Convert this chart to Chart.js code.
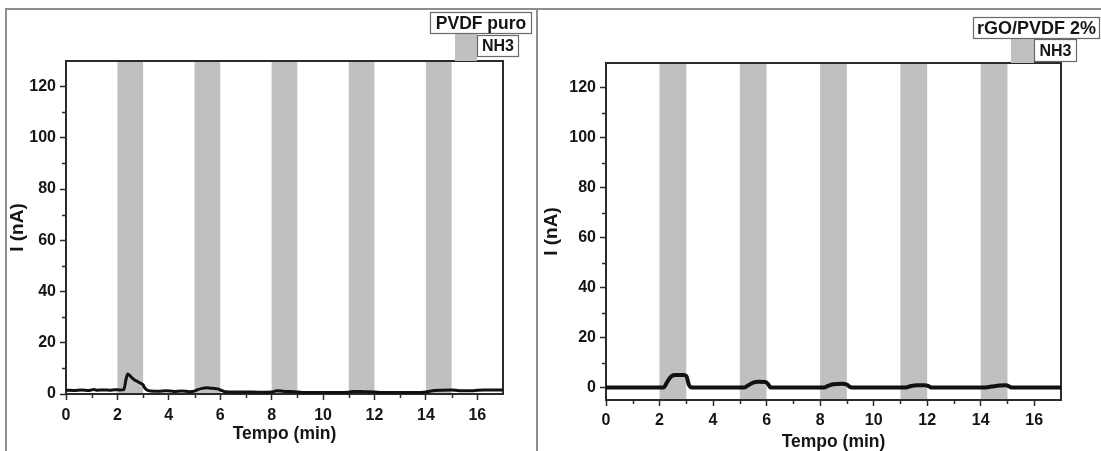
<!DOCTYPE html>
<html lang="pt">
<head>
<meta charset="UTF-8">
<title>Resposta a NH3 – PVDF puro e rGO/PVDF 2%</title>
<script src="https://cdn.jsdelivr.net/npm/chart.js"></script>
<style>
  html, body { margin: 0; padding: 0; background: #fff; }
  #page { position: relative; width: 1101px; height: 451px; overflow: hidden; }
  .panel { position: absolute; top: 0; height: 451px; }
  .frame { position: absolute; background: #8e8e8e; }
</style>
</head>
<body>
<div id="page">
  <div class="panel" style="left:0;width:537px"><canvas id="chartPuro"></canvas></div>
  <div class="panel" style="left:537px;width:564px"><canvas id="chartRgo"></canvas></div>
  <div class="frame" style="left:5px;top:8px;width:1096px;height:2px"></div>
  <div class="frame" style="left:5px;top:8px;width:2px;height:443px"></div>
  <div class="frame" style="left:536px;top:8px;width:2px;height:443px"></div>
</div>
<script>
// NH3 exposure windows (min)
const nh3Windows = [[2, 3], [5, 6], [8, 9], [11, 12], [14, 15]];

// PVDF puro: time (min) and current (nA)
const tempoPuro = [0, 0.3, 0.6, 0.9, 1.1, 1.2, 1.5, 1.7, 1.9, 2.1, 2.25, 2.33, 2.4, 2.5, 2.6, 2.7, 2.8, 2.9, 3.0, 3.05, 3.15, 3.3, 3.6, 3.9, 4.2, 4.5, 4.8, 5.0, 5.1, 5.3, 5.5, 5.7, 5.9, 6.05, 6.2, 6.6, 7.0, 7.5, 8.0, 8.2, 8.5, 8.9, 9.2, 9.8, 10.5, 11.0, 11.2, 11.6, 12.0, 12.3, 13.0, 13.6, 14.0, 14.2, 14.6, 15.0, 15.3, 15.8, 16.0, 16.3, 16.7, 17.0];
const correntePuro = [1.5, 1.4, 1.6, 1.4, 1.8, 1.5, 1.6, 1.5, 1.7, 1.6, 1.7, 5.5, 7.8, 7.0, 6.0, 5.3, 4.8, 4.2, 3.6, 2.6, 1.6, 1.2, 1.1, 1.3, 1.0, 1.2, 0.9, 1.1, 1.6, 2.2, 2.4, 2.2, 2.0, 1.4, 0.9, 0.8, 0.8, 0.7, 0.8, 1.3, 1.0, 0.9, 0.6, 0.6, 0.6, 0.7, 1.0, 0.9, 0.8, 0.6, 0.6, 0.6, 0.8, 1.2, 1.5, 1.6, 1.3, 1.3, 1.5, 1.6, 1.6, 1.6];

// rGO/PVDF 2%: time (min) and current (nA)
const tempoRgo = [0, 2.15, 2.3, 2.45, 2.6, 2.9, 3.0, 3.1, 3.2, 5.15, 5.3, 5.5, 5.7, 5.95, 6.05, 6.15, 8.15, 8.3, 8.5, 8.8, 9.0, 9.1, 9.2, 11.2, 11.4, 11.6, 11.9, 12.05, 12.15, 14.1, 14.4, 14.7, 14.95, 15.05, 15.15, 17];
const correnteRgo = [0, 0, 2.5, 4.6, 5.0, 5.0, 4.6, 1.0, 0, 0, 0.8, 2.0, 2.3, 2.2, 1.5, 0, 0, 0.7, 1.3, 1.5, 1.2, 0.3, 0, 0, 0.6, 0.9, 0.9, 0.6, 0, 0, 0.4, 0.8, 0.9, 0.5, 0, 0];

// axis ticks
const xTicks = [0, 2, 4, 6, 8, 10, 12, 14, 16];
const xMinor = [1, 3, 5, 7, 9, 11, 13, 15];
const yTicks = [0, 20, 40, 60, 80, 100, 120];
const yMinor = [10, 30, 50, 70, 90, 110];

const legendPuro = ['PVDF puro', 'NH3'];
const legendRgo = ['rGO/PVDF 2%', 'NH3'];

const FONT = '"Liberation Sans", Arial, sans-serif';
const INK = '#151515';

function labelBox(ctx, text, box, size) {
  const [x, y, w, h] = box;
  ctx.fillStyle = '#fff';
  ctx.fillRect(x, y, w, h);
  ctx.strokeStyle = '#6a6a6a';
  ctx.lineWidth = 1.2;
  ctx.strokeRect(x + 0.5, y + 0.5, w - 1, h - 1);
  ctx.fillStyle = INK;
  ctx.font = 'bold ' + size + 'px ' + FONT;
  ctx.textAlign = 'center';
  ctx.textBaseline = 'middle';
  ctx.fillText(text, x + w / 2, y + h / 2 + 1);
}

const nh3Plugin = {
  id: 'nh3',
  beforeDraw(chart) {
    const { ctx, chartArea: a, scales: { x } } = chart;
    ctx.save();
    ctx.fillStyle = '#c0c0c0';
    nh3Windows.forEach(([s, e]) => {
      const x0 = x.getPixelForValue(s), x1 = x.getPixelForValue(e);
      ctx.fillRect(x0, a.top, x1 - x0, a.bottom - a.top);
    });
    ctx.restore();
  },
  beforeDatasetsDraw(chart) {
    const { ctx, chartArea: a, scales: { x, y } } = chart;
    ctx.save();
    ctx.strokeStyle = '#2b2b2b';
    ctx.lineWidth = 2;
    ctx.strokeRect(a.left, a.top, a.right - a.left, a.bottom - a.top);
    // minor ticks
    ctx.lineWidth = 1.5;
    ctx.beginPath();
    xMinor.forEach(v => {
      const px = Math.round(x.getPixelForValue(v)) + 0.5;
      ctx.moveTo(px, a.bottom);
      ctx.lineTo(px, a.bottom + 4);
    });
    yMinor.forEach(v => {
      const py = Math.round(y.getPixelForValue(v)) + 0.5;
      ctx.moveTo(a.left - 4, py);
      ctx.lineTo(a.left, py);
    });
    ctx.stroke();
    ctx.restore();
  },
  afterDraw(chart, args, opts) {
    const { ctx } = chart;
    const L = opts.legend;
    ctx.save();
    ctx.fillStyle = '#c0c0c0';
    ctx.fillRect(...L.swatch);
    labelBox(ctx, opts.labels[0], L.title, L.titleSize);
    labelBox(ctx, opts.labels[1], L.gas, 16);
    ctx.restore();
  }
};

function makePanel(id, tempo, corrente, cfg) {
  const points = tempo.map((t, i) => ({ x: t, y: corrente[i] }));
  const tickFont = { family: FONT, size: 16, weight: 'bold' };
  return new Chart(document.getElementById(id), {
    type: 'line',
    data: {
      datasets: [{
        data: points,
        borderColor: '#111',
        borderWidth: cfg.lineWidth,
        pointRadius: 0,
        cubicInterpolationMode: 'monotone',
        borderJoinStyle: 'round',
        borderCapStyle: 'round',
        fill: false
      }]
    },
    options: {
      responsive: true,
      maintainAspectRatio: false,
      animation: false,
      devicePixelRatio: 1,
      layout: { padding: cfg.padding },
      plugins: {
        legend: { display: false },
        tooltip: { enabled: false },
        nh3: { labels: cfg.labels, legend: cfg.legend }
      },
      scales: {
        x: {
          type: 'linear',
          min: 0,
          max: 17,
          afterBuildTicks: s => { s.ticks = xTicks.map(v => ({ value: v })); },
          afterFit: s => { s.height = cfg.xHeight; },
          border: { display: false },
          grid: { drawOnChartArea: false, drawTicks: true, tickLength: 6, tickWidth: 1.5, tickColor: '#2b2b2b' },
          ticks: { color: INK, font: tickFont, padding: cfg.xTickPad, maxRotation: 0 },
          title: { display: true, text: 'Tempo (min)', color: INK, font: { family: FONT, size: 17.5, weight: 'bold' }, padding: { top: 0, bottom: cfg.xTitlePad } }
        },
        y: {
          min: cfg.yMin,
          max: 130,
          afterBuildTicks: s => { s.ticks = yTicks.map(v => ({ value: v })); },
          afterFit: s => { s.width = cfg.yWidth; },
          border: { display: false },
          grid: { drawOnChartArea: false, drawTicks: true, tickLength: 6, tickWidth: 1.5, tickColor: '#2b2b2b' },
          ticks: { color: INK, font: tickFont, padding: 4 },
          title: { display: true, text: 'I (nA)', color: INK, font: { family: FONT, size: 19, weight: 'bold' }, padding: { top: 0, bottom: 0 } }
        }
      }
    },
    plugins: [nh3Plugin]
  });
}

makePanel('chartPuro', tempoPuro, correntePuro, {
  lineWidth: 3,
  padding: { left: 6, right: 34, top: 61, bottom: 0 },
  yWidth: 60, xHeight: 57, yMin: 0,
  xTickPad: 6, xTitlePad: 6,
  labels: legendPuro,
  legend: { title: [430, 12, 102, 22], titleSize: 17.5, swatch: [455, 34, 22, 27], gas: [477, 35, 42, 22] }
});

makePanel('chartRgo', tempoRgo, correnteRgo, {
  lineWidth: 4,
  padding: { left: 3, right: 40, top: 63, bottom: 0 },
  yWidth: 66, xHeight: 51, yMin: -5,
  xTickPad: 5, xTitlePad: -2,
  labels: legendRgo,
  legend: { title: [436, 17, 127, 22], titleSize: 18, swatch: [474, 38, 23, 25], gas: [497, 39, 43, 23] }
});
</script>
</body>
</html>
